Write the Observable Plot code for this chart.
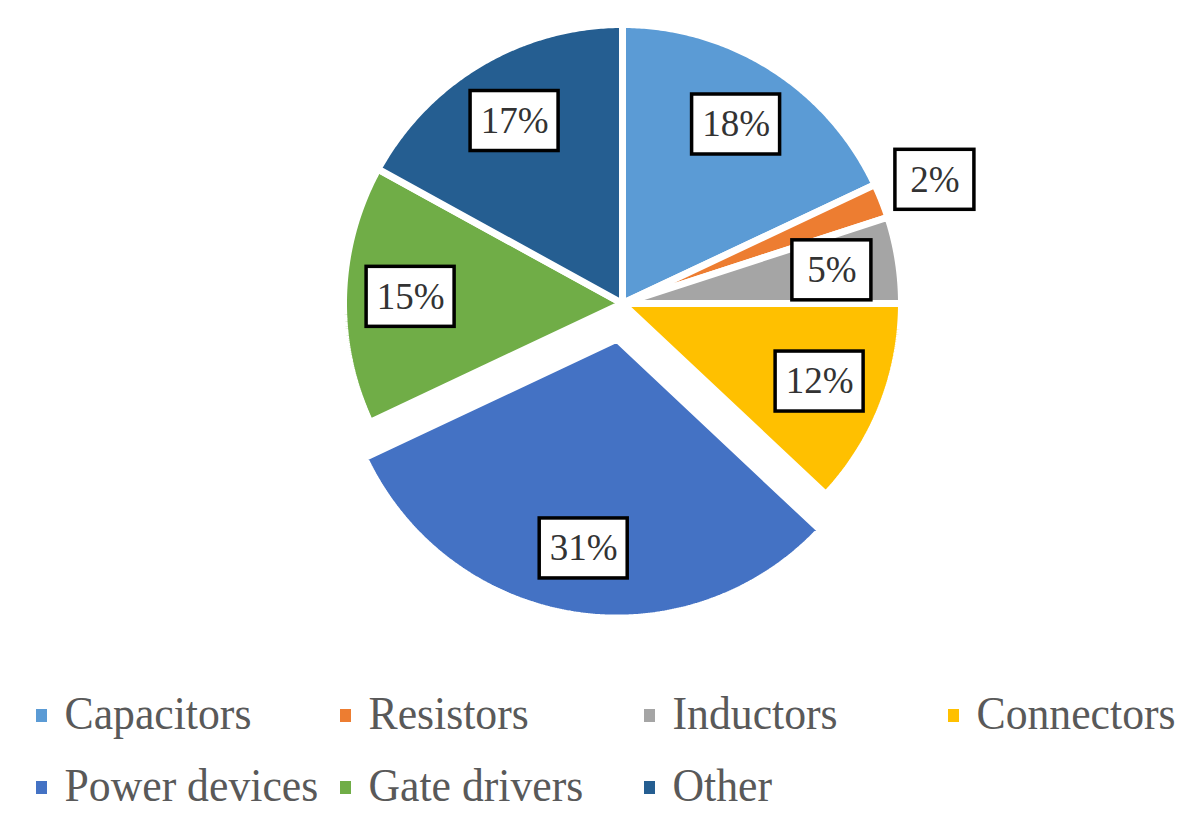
<!DOCTYPE html>
<html>
<head>
<meta charset="utf-8">
<script src="https://cdn.jsdelivr.net/npm/d3@7"></script>
<script src="https://cdn.jsdelivr.net/npm/@observablehq/plot@0.6"></script>
<style>
  html, body { margin: 0; padding: 0; background: #ffffff; }
  #chart svg { display: block; }
</style>
</head>
<body>
<div id="chart"></div>
<script>
// ---- data ----
const categories = ["Capacitors", "Resistors", "Inductors", "Connectors", "Power devices", "Gate drivers", "Other"];
const shares = [18, 2, 5, 12, 31, 15, 17];
const colors = ["#5B9BD5", "#ED7D31", "#A5A5A5", "#FFC000", "#4472C4", "#70AD47", "#255E91"];
const shareLabels = ["18%", "2%", "5%", "12%", "31%", "15%", "17%"];
const explodedCategory = "Power devices";

// ---- layout ----
const W = 1200, H = 824;
const cx = 622, cy = 303;       // pie centre (pixels)
const R = 279;                  // pie radius
const explodeDist = 36;
const labelR = 212, outsideLabelR = 336;
const fontFamily = "'Liberation Serif', 'Times New Roman', serif";

const arcs = d3.pie().sort(null).value(d => d)(shares);

// slice polygons
const slicePts = [];
arcs.forEach((a, i) => {
  const name = categories[i];
  const mid = (a.startAngle + a.endAngle) / 2;
  const off = name === explodedCategory ? explodeDist : 0;
  const ox = off * Math.sin(mid), oy = -off * Math.cos(mid);
  slicePts.push({name, x: ox, y: oy});
  const n = Math.max(2, Math.ceil((a.endAngle - a.startAngle) / (Math.PI / 360)));
  for (let k = 0; k <= n; k++) {
    const t = a.startAngle + (a.endAngle - a.startAngle) * k / n;
    slicePts.push({name, x: ox + R * Math.sin(t), y: oy - R * Math.cos(t)});
  }
});

// data labels
const fs = 37;
const labelData = arcs.map((a, i) => {
  const name = categories[i];
  const mid = (a.startAngle + a.endAngle) / 2;
  const off = name === explodedCategory ? explodeDist : 0;
  const r = (shares[i] < 3 ? outsideLabelR : labelR) + off;
  const x = r * Math.sin(mid), y = -r * Math.cos(mid);
  const digits = shareLabels[i].length - 1;
  const w = 70 + 9 * digits, h = 60;
  return {name, text: shareLabels[i], x, y, x1: x - w / 2, x2: x + w / 2, y1: y - h / 2, y2: y + h / 2};
});

// legend
const legendData = categories.map((name, i) => {
  const col = i % 4, row = Math.floor(i / 4);
  const px = 36 + col * 304;
  const py = 713 + row * 72;
  return {
    name,
    sx1: px - cx, sx2: px + 11 - cx,
    sy1: py - 4 - cy, sy2: py + 9 - cy,
    tx: px + 28 - cx, ty: py - cy
  };
});

const chart = Plot.plot({
  width: W,
  height: H,
  margin: 0,
  style: {background: "#ffffff", overflow: "visible"},
  x: {domain: [-cx, W - cx], range: [0, W], axis: null},
  y: {domain: [-cy, H - cy], range: [0, H], axis: null},
  color: {domain: categories, range: colors},
  marks: [
    Plot.line(slicePts, {
      x: "x", y: "y", z: "name", fill: "name",
      stroke: "white", strokeWidth: 7, strokeLinejoin: "miter", curve: "linear-closed"
    }),
    Plot.rect(labelData, {
      x1: "x1", x2: "x2", y1: "y1", y2: "y2",
      fill: "white", stroke: "black", strokeWidth: 3.5
    }),
    Plot.text(labelData, {
      x: "x", y: "y", text: "text",
      fontSize: fs, fontFamily, fill: "#333333", lineAnchor: "middle"
    }),
    Plot.rect(legendData, {
      x1: "sx1", x2: "sx2", y1: "sy1", y2: "sy2", fill: "name"
    }),
    Plot.text(legendData, {
      x: "tx", y: "ty", text: "name", textAnchor: "start",
      fontSize: 47, fontFamily, fill: "#595959", lineAnchor: "middle"
    })
  ]
});

document.getElementById("chart").appendChild(chart);

// legend typeface is a narrow serif: condense the legend labels horizontally
const textGroups = chart.querySelectorAll('g[aria-label="text"]');
const legendGroup = textGroups[textGroups.length - 1];
legendGroup.querySelectorAll("text").forEach(el => {
  const len = el.getComputedTextLength();
  el.setAttribute("textLength", (len * 0.93).toFixed(1));
  el.setAttribute("lengthAdjust", "spacingAndGlyphs");
});
</script>
</body>
</html>
